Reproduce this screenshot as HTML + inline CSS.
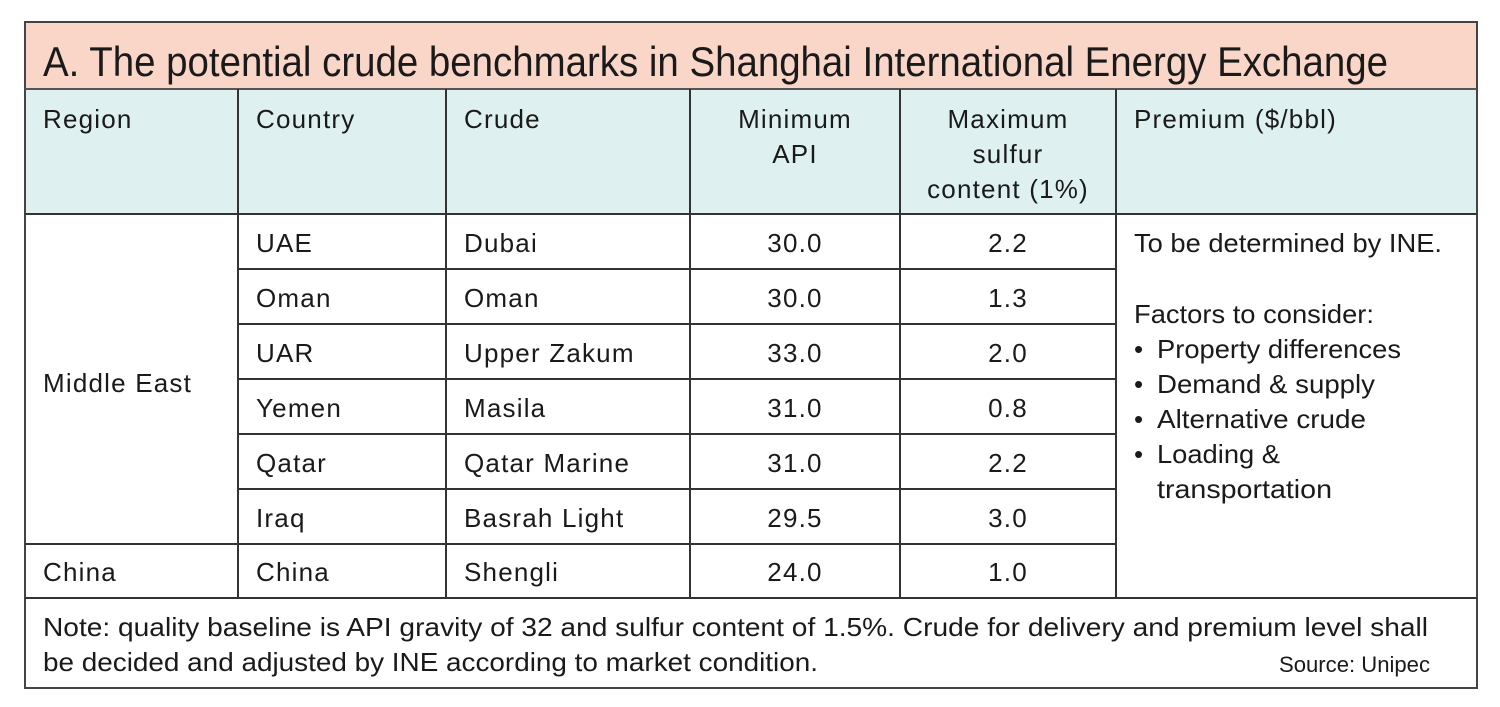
<!DOCTYPE html>
<html><head><meta charset="utf-8"><style>
html,body{margin:0;padding:0;background:#fff;width:1500px;height:707px;overflow:hidden}
svg{display:block}
text{font-family:"Liberation Sans",sans-serif;fill:#1a1a1a}
</style></head><body>
<svg width="1500" height="707" viewBox="0 0 1500 707" xmlns="http://www.w3.org/2000/svg">
<rect x="25" y="22" width="1452" height="67" fill="#f9d6c8"/>
<rect x="25" y="89" width="1452" height="125" fill="#def0f0"/>
<g stroke="#555" stroke-width="2" fill="none">
<rect x="25" y="22" width="1452" height="666" stroke="#444"/>
<line x1="25" y1="89" x2="1477" y2="89"/>
<line x1="25" y1="214" x2="1477" y2="214" stroke="#333"/>
<line x1="238" y1="89" x2="238" y2="598" stroke="#333"/>
<line x1="446" y1="89" x2="446" y2="598" stroke="#333"/>
<line x1="690" y1="89" x2="690" y2="598" stroke="#333"/>
<line x1="900" y1="89" x2="900" y2="598" stroke="#333"/>
<line x1="1116" y1="89" x2="1116" y2="598" stroke="#333"/>
<g stroke="#333">
<line x1="238" y1="269" x2="1116" y2="269"/>
<line x1="238" y1="324" x2="1116" y2="324"/>
<line x1="238" y1="379" x2="1116" y2="379"/>
<line x1="238" y1="434" x2="1116" y2="434"/>
<line x1="238" y1="489" x2="1116" y2="489"/>
<line x1="25" y1="544" x2="1116" y2="544"/>
<line x1="25" y1="598" x2="1477" y2="598"/>
</g>
</g>
<text x="43" y="76" font-size="42" textLength="1345" lengthAdjust="spacingAndGlyphs">A. The potential crude benchmarks in Shanghai International Energy Exchange</text>
<g font-size="26" letter-spacing="1.2">
<text x="43" y="128">Region</text>
<text x="256" y="128">Country</text>
<text x="464" y="128">Crude</text>
<text x="795" y="128" text-anchor="middle">Minimum</text>
<text x="795" y="163" text-anchor="middle">API</text>
<text x="1008" y="128" text-anchor="middle">Maximum</text>
<text x="1008" y="163" text-anchor="middle">sulfur</text>
<text x="1008" y="198" text-anchor="middle">content (1%)</text>
<text x="1134" y="128">Premium ($/bbl)</text>

<text x="43" y="392">Middle East</text>
<text x="43" y="581">China</text>

<text x="256" y="252">UAE</text><text x="464" y="252">Dubai</text><text x="795" y="252" text-anchor="middle">30.0</text><text x="1008" y="252" text-anchor="middle">2.2</text>
<text x="256" y="307">Oman</text><text x="464" y="307">Oman</text><text x="795" y="307" text-anchor="middle">30.0</text><text x="1008" y="307" text-anchor="middle">1.3</text>
<text x="256" y="362">UAR</text><text x="464" y="362">Upper Zakum</text><text x="795" y="362" text-anchor="middle">33.0</text><text x="1008" y="362" text-anchor="middle">2.0</text>
<text x="256" y="417">Yemen</text><text x="464" y="417">Masila</text><text x="795" y="417" text-anchor="middle">31.0</text><text x="1008" y="417" text-anchor="middle">0.8</text>
<text x="256" y="472">Qatar</text><text x="464" y="472">Qatar Marine</text><text x="795" y="472" text-anchor="middle">31.0</text><text x="1008" y="472" text-anchor="middle">2.2</text>
<text x="256" y="527">Iraq</text><text x="464" y="527">Basrah Light</text><text x="795" y="527" text-anchor="middle">29.5</text><text x="1008" y="527" text-anchor="middle">3.0</text>
<text x="256" y="581">China</text><text x="464" y="581">Shengli</text><text x="795" y="581" text-anchor="middle">24.0</text><text x="1008" y="581" text-anchor="middle">1.0</text>
</g>
<g font-size="26">
<text x="1134" y="252" textLength="308" lengthAdjust="spacingAndGlyphs">To be determined by INE.</text>
<text x="1134" y="323" textLength="240" lengthAdjust="spacingAndGlyphs">Factors to consider:</text>
<text x="1134" y="358">•</text><text x="1157" y="358" textLength="244" lengthAdjust="spacingAndGlyphs">Property differences</text>
<text x="1134" y="393">•</text><text x="1157" y="393" textLength="218" lengthAdjust="spacingAndGlyphs">Demand &amp; supply</text>
<text x="1134" y="428">•</text><text x="1157" y="428" textLength="209" lengthAdjust="spacingAndGlyphs">Alternative crude</text>
<text x="1134" y="463">•</text><text x="1157" y="463" textLength="123" lengthAdjust="spacingAndGlyphs">Loading &amp;</text>
<text x="1157" y="498" textLength="175" lengthAdjust="spacingAndGlyphs">transportation</text>

<text x="43" y="636" textLength="1385" lengthAdjust="spacingAndGlyphs">Note: quality baseline is API gravity of 32 and sulfur content of 1.5%. Crude for delivery and premium level shall</text>
<text x="43" y="671" textLength="775" lengthAdjust="spacingAndGlyphs">be decided and adjusted by INE according to market condition.</text>
</g>
<text x="1430" y="672" font-size="22" text-anchor="end" textLength="151" lengthAdjust="spacingAndGlyphs">Source: Unipec</text>
</svg>
</body></html>
